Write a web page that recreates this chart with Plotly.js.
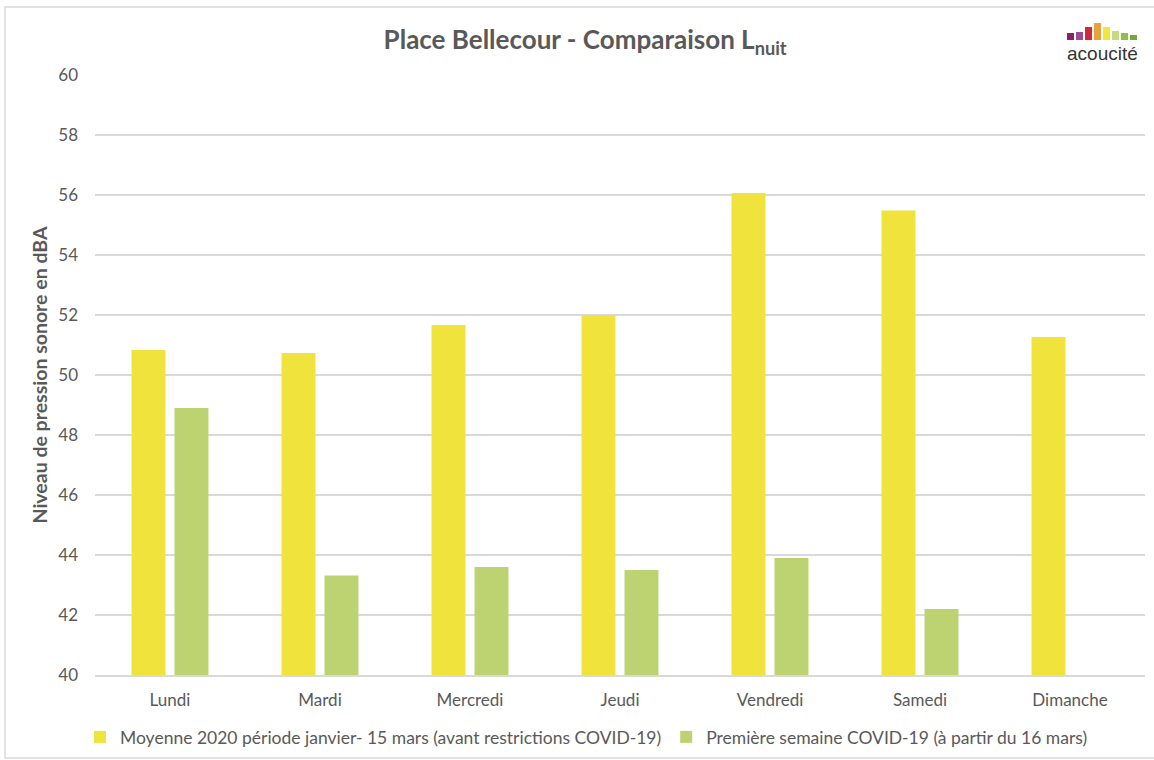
<!DOCTYPE html>
<html>
<head>
<meta charset="utf-8">
<script src="https://cdn.plot.ly/plotly-3.0.1.min.js"></script>
<style>
  html, body { margin: 0; padding: 0; background: #ffffff; }
  #chart { width: 1154px; height: 760px; }
</style>
</head>
<body>
<div id="chart"></div>
<script>
// Jours de la semaine
const jours = ['Lundi', 'Mardi', 'Mercredi', 'Jeudi', 'Vendredi', 'Samedi', 'Dimanche'];

// Lnuit moyen 2020, janvier - 15 mars (dBA)
const moyenneAvant = [50.83, 50.73, 51.67, 52.0, 56.07, 55.48, 51.27];

// Lnuit première semaine COVID-19 (dBA) ; pas de valeur le dimanche
const premiereSemaine = [48.9, 43.32, 43.6, 43.5, 43.9, 42.2, null];

const nomAvant = 'Moyenne 2020 période janvier- 15 mars (avant restrictions COVID-19)';
const nomCovid = 'Première semaine COVID-19 (à partir du 16 mars)';

// Barres du logo acoucité
const logoCouleurs = ['#8a1f6e', '#9c4a9a', '#d3283c', '#e8a23a', '#f2e63b', '#c6d97c', '#8fbf43', '#6ea93b'];
const logoHauteurs = [7, 8, 13, 17, 13, 9, 7, 5];

// Géométrie de la zone de tracé (px)
const W = 1154, H = 760;
const M = { l: 95, r: 9, t: 75, b: 85, autoexpand: false };
const PW = W - M.l - M.r, PH = H - M.t - M.b;
const px = x => (x - M.l) / PW;
const py = y => (H - M.b - y) / PH;

const grisTexte = '#595959';
const police = 'Lato, "Open Sans", sans-serif';

const traces = [
  {
    type: 'bar', name: nomAvant, x: jours, y: moyenneAvant,
    marker: { color: '#f0e43c' }, hoverinfo: 'x+y'
  },
  {
    type: 'bar', name: nomCovid, x: jours, y: premiereSemaine,
    marker: { color: '#bdd372' }, hoverinfo: 'x+y'
  }
];

const shapes = [
  // cadre du graphique
  {
    type: 'rect', xref: 'paper', yref: 'paper',
    x0: px(5), x1: px(1170), y0: py(758), y1: py(7),
    line: { color: '#d9d9d9', width: 1.5 }, fillcolor: 'rgba(0,0,0,0)', layer: 'below'
  }
];

// logo : barres colorées
logoCouleurs.forEach((c, i) => {
  const x0 = 1067 + i * 9.0;
  shapes.push({
    type: 'rect', xref: 'paper', yref: 'paper',
    x0: px(x0), x1: px(x0 + 7), y0: py(40), y1: py(40 - logoHauteurs[i]),
    line: { width: 0 }, fillcolor: c
  });
});

const layout = {
  width: W, height: H,
  margin: M,
  paper_bgcolor: '#ffffff', plot_bgcolor: '#ffffff',
  font: { family: police, color: grisTexte, size: 17 },
  title: {
    text: 'Place Bellecour - Comparaison L<sub>nuit</sub>',
    font: { family: police, size: 26, color: grisTexte, weight: 'bold' },
    xref: 'container', x: 0.507, xanchor: 'center',
    yref: 'container', y: 1 - 40 / H, yanchor: 'middle'
  },
  barmode: 'group',
  bargap: 0.427,
  bargroupgap: 0.21,
  xaxis: {
    type: 'category',
    showgrid: false, zeroline: false,
    showline: true, linecolor: '#d9d9d9', linewidth: 1.5,
    ticks: '', ticklabelstandoff: 9,
    tickfont: { family: police, size: 17, color: grisTexte },
    automargin: false,
    fixedrange: true
  },
  yaxis: {
    range: [40, 60], dtick: 2, tick0: 40,
    showgrid: true, gridcolor: '#d9d9d9', gridwidth: 1.2,
    zeroline: false, showline: false,
    ticks: '', ticklabelstandoff: 16,
    tickfont: { family: police, size: 17, color: grisTexte },
    title: {
      text: 'Niveau de pression sonore en dBA',
      font: { family: police, size: 19.5, color: grisTexte, weight: 'bold' },
      standoff: 5
    },
    automargin: false,
    fixedrange: true
  },
  showlegend: true,
  legend: {
    orientation: 'h',
    xref: 'container', x: 80 / W, xanchor: 'left',
    yref: 'container', y: 1 - 737 / H, yanchor: 'middle',
    font: { family: police, size: 17.5, color: grisTexte },
    itemwidth: 30,
    traceorder: 'normal',
    bgcolor: 'rgba(0,0,0,0)'
  },
  annotations: [
    {
      text: 'acoucité', xref: 'paper', yref: 'paper',
      x: px(1102), y: py(53), xanchor: 'center', yanchor: 'middle',
      showarrow: false,
      font: { family: '"Liberation Sans", Arial, sans-serif', size: 19, color: '#333333' }
    }
  ],
  shapes: shapes
};

Plotly.newPlot('chart', traces, layout, { displayModeBar: false, staticPlot: true });
</script>
</body>
</html>
